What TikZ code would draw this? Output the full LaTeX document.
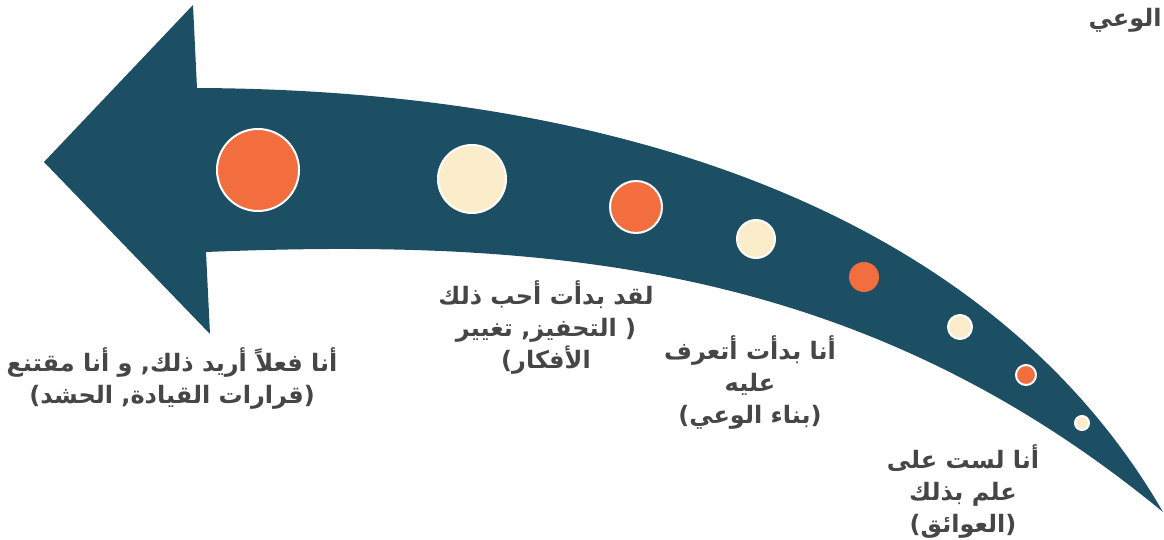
\documentclass[tikz,border=0pt]{standalone}
\usepackage{fontspec}
\newfontfamily\arabicfont[Script=Arabic]{DejaVu Sans}
\TeXXeTstate=1
\definecolor{arrowblue}{HTML}{1C4E64}
\definecolor{dotorange}{HTML}{F36E3F}
\definecolor{dotcream}{HTML}{FBEDC9}
\definecolor{txtgray}{HTML}{464646}
\tikzset{
    dot/.style={draw=white,line width=1pt,circle,inner sep=0pt},
    lbl/.style={align=center,text=txtgray,inner sep=0pt,font=\arabicfont\bfseries\fontsize{12}{16}\selectfont}
}
\begin{document}
\begin{tikzpicture}[x=0.5pt,y=-0.5pt]
                    \useasboundingbox (0,0) rectangle (1164,540);

                    \fill[arrowblue] (44,162) -- (193,5) -- (197,88)
                        .. controls (650,90) and (1000,230) .. (1163,512)
                        .. controls (862,264) and (550,238) .. (206,252)
                        -- (210,334) -- cycle;

                    \node[dot,fill=dotorange,minimum size=41pt] (d1) at (258,170) {};
                    \node[dot,fill=dotcream,minimum size=34pt]  (d2) at (472,179) {};
                    \node[dot,fill=dotorange,minimum size=26pt] (d3) at (636,207) {};
                    \node[dot,fill=dotcream,minimum size=19pt]  (d4) at (756,239) {};
                    \node[dot,draw=none,fill=dotorange,minimum size=15pt] (d5) at (864,277) {};
                    \node[dot,fill=dotcream,minimum size=12pt]  (d6) at (960,327) {};
                    \node[dot,fill=dotorange,minimum size=10pt] (d7) at (1026,375) {};
                    \node[dot,fill=dotcream,minimum size=7pt]   (d8) at (1082,423) {};

                    \node[lbl,anchor=east] (title) at (1162,20) {\beginR الوعي\endR};
                    \node[lbl] (t1) at (172,379) {\beginR أنا فعلاً أريد ذلك, و أنا مقتنع\endR\\\beginR (قرارات القيادة, الحشد)\endR};
                    \node[lbl] (t2) at (546,328) {\beginR لقد بدأت أحب ذلك\endR\\\beginR ( التحفيز, تغيير\endR\\\beginR الأفكار)\endR};
                    \node[lbl] (t3) at (750,383) {\beginR أنا بدأت أتعرف\endR\\\beginR عليه\endR\\\beginR (بناء الوعي)\endR};
                    \node[lbl] (t4) at (963,492) {\beginR أنا لست على\endR\\\beginR علم بذلك\endR\\\beginR (العوائق)\endR};
                \end{tikzpicture}
\end{document}
